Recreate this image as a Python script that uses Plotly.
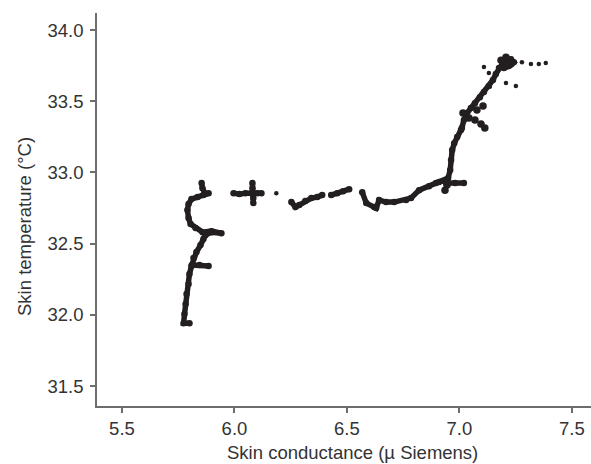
import plotly.graph_objects as go

# Trajectory segments (skin conductance in µS, skin temperature in °C)
seg_main_x = [5.800, 5.774, 5.778, 5.783, 5.787, 5.796, 5.800, 5.809, 5.818, 5.831, 5.849,
              5.862, 5.871, 5.898, 5.942, 5.898, 5.858, 5.827, 5.805, 5.796, 5.791, 5.796,
              5.809, 5.836, 5.862, 5.885, 5.871, 5.858, 5.854]
seg_main_y = [31.942, 31.942, 32.006, 32.076, 32.146, 32.216, 32.287, 32.343, 32.399, 32.441, 32.490,
              32.532, 32.560, 32.581, 32.574, 32.588, 32.581, 32.610, 32.638, 32.680, 32.736, 32.778,
              32.813, 32.827, 32.841, 32.855, 32.848, 32.890, 32.926]

seg_branch_x = [5.811, 5.845, 5.885]
seg_branch_y = [32.350, 32.350, 32.343]

seg_b_x = [5.996, 6.022, 6.049, 6.075, 6.102, 6.120]
seg_b_y = [32.855, 32.848, 32.855, 32.855, 32.855, 32.855]

seg_bv_x = [6.080, 6.080, 6.084, 6.084]
seg_bv_y = [32.926, 32.890, 32.820, 32.785]

seg_c1_x = [6.253, 6.271, 6.288, 6.315, 6.342, 6.368, 6.390]
seg_c1_y = [32.792, 32.757, 32.771, 32.799, 32.820, 32.827, 32.841]

seg_c2_x = [6.430, 6.457, 6.483, 6.510]
seg_c2_y = [32.841, 32.855, 32.869, 32.883]

seg_d_x = [6.568, 6.586, 6.621, 6.630, 6.643, 6.674, 6.710, 6.763, 6.785, 6.821, 6.865, 6.896,
           6.910, 6.932, 6.950, 6.959, 6.963, 6.968, 6.977, 6.990, 7.007, 7.011, 7.020, 7.034,
           7.051, 7.069, 7.091, 7.109, 7.131, 7.149, 7.162, 7.176, 7.193, 7.211, 7.229, 7.242,
           7.220, 7.198]
seg_d_y = [32.862, 32.785, 32.757, 32.750, 32.806, 32.792, 32.792, 32.806, 32.820, 32.876, 32.904, 32.926,
           32.933, 32.940, 32.961, 33.017, 33.087, 33.157, 33.206, 33.249, 33.298, 33.312, 33.368, 33.417,
           33.452, 33.487, 33.529, 33.565, 33.607, 33.649, 33.691, 33.733, 33.768, 33.789, 33.796, 33.775,
           33.747, 33.733]

seg_tick_x = [6.941, 6.981, 7.020]
seg_tick_y = [32.926, 32.926, 32.926]

blob_x = [6.936, 6.945, 7.042, 7.069, 7.096, 7.113, 7.016, 7.078, 7.105, 7.185, 7.207, 7.229, 7.202]
blob_y = [32.876, 32.912, 33.382, 33.368, 33.340, 33.312, 33.417, 33.438, 33.466, 33.789, 33.810, 33.761, 33.754]

dots_x = [6.186, 7.109, 7.131, 7.207, 7.251, 7.278, 7.318, 7.353, 7.384]
dots_y = [32.855, 33.740, 33.698, 33.628, 33.607, 33.775, 33.761, 33.761, 33.768]

x_ticks = [5.5, 6.0, 6.5, 7.0, 7.5]
y_ticks = [31.5, 32.0, 32.5, 33.0, 33.5, 34.0]

INK = "#231f20"
AXIS = "#6d6d6d"
TEXT = "#333333"
FONT = "Liberation Sans, Arial, sans-serif"
FS = 18.5

fig = go.Figure()
segments = [(seg_main_x, seg_main_y), (seg_branch_x, seg_branch_y), (seg_b_x, seg_b_y),
            (seg_bv_x, seg_bv_y), (seg_c1_x, seg_c1_y), (seg_c2_x, seg_c2_y),
            (seg_d_x, seg_d_y), (seg_tick_x, seg_tick_y)]
for sx, sy in segments:
    fig.add_trace(go.Scatter(x=sx, y=sy, mode="lines+markers",
                             line=dict(color=INK, width=5.5),
                             marker=dict(color=INK, size=6.5),
                             hoverinfo="skip", showlegend=False))
fig.add_trace(go.Scatter(x=blob_x, y=blob_y, mode="markers",
                         marker=dict(color=INK, size=7.5), hoverinfo="skip", showlegend=False))
fig.add_trace(go.Scatter(x=dots_x, y=dots_y, mode="markers",
                         marker=dict(color=INK, size=4.5), hoverinfo="skip", showlegend=False))

fig.update_layout(
    width=591, height=464,
    margin=dict(l=97, r=0, t=13, b=58),
    paper_bgcolor="white", plot_bgcolor="white",
    font=dict(family=FONT, size=FS, color=TEXT),
    showlegend=False,
)
fig.update_xaxes(range=[5.389, 7.585], tickvals=x_ticks, ticktext=[f"{v:.1f}" for v in x_ticks],
                 showgrid=False, zeroline=False, showline=True, linecolor=AXIS, linewidth=1.5,
                 ticks="outside", ticklen=5, tickcolor=AXIS, tickwidth=1.5,
                 tickfont=dict(size=FS, color=TEXT), ticklabelstandoff=0)
fig.update_yaxes(range=[31.36, 34.12], tickvals=y_ticks, ticktext=[f"{v:.1f}" for v in y_ticks],
                 showgrid=False, zeroline=False, showline=True, linecolor=AXIS, linewidth=1.5,
                 ticks="outside", ticklen=5, tickcolor=AXIS, tickwidth=1.5,
                 tickfont=dict(size=FS, color=TEXT), ticklabelstandoff=3)

fig.add_annotation(text="Skin conductance (µ Siemens)", xref="paper", yref="paper",
                   x=(352 - 97) / 494, y=-(452 - 406) / 393, xanchor="center", yanchor="middle",
                   showarrow=False, font=dict(size=FS, color=TEXT))
fig.add_annotation(text="Skin temperature (°C)", xref="paper", yref="paper",
                   x=-(97 - 24) / 494, y=(406 - 227) / 393, xanchor="center", yanchor="middle",
                   textangle=-90, showarrow=False, font=dict(size=FS, color=TEXT))

fig.write_html("out.html", config={"displayModeBar": False},
               post_script="document.body.style.margin='0';")
